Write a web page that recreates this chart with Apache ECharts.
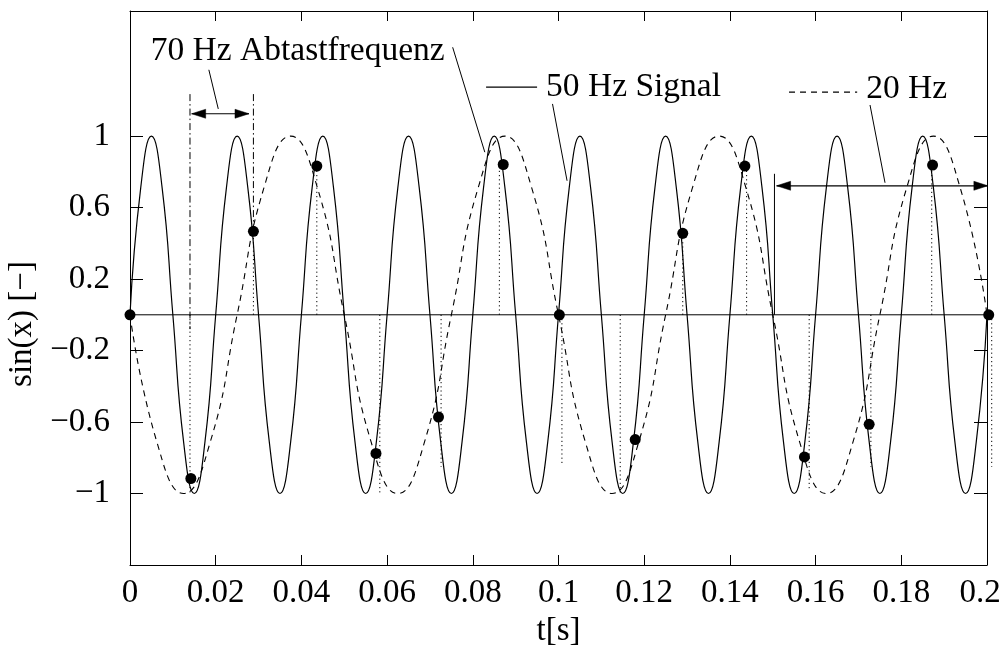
<!DOCTYPE html>
<html><head><meta charset="utf-8">
<script src="https://cdn.jsdelivr.net/npm/echarts@6/dist/echarts.min.js"></script>
<style>html,body{margin:0;padding:0;background:#fff}#c{width:1005px;height:657px}</style>
</head><body><div id="c"></div>
<script>
// 50 Hz signal (solid), read at 1/8-period steps
const sig50T = [0,0.0025,0.005,0.0075,0.01,0.0125,0.015,0.0175,
  0.02,0.0225,0.025,0.0275,0.03,0.0325,0.035,0.0375,
  0.04,0.0425,0.045,0.0475,0.05,0.0525,0.055,0.0575,
  0.06,0.0625,0.065,0.0675,0.07,0.0725,0.075,0.0775,
  0.08,0.0825,0.085,0.0875,0.09,0.0925,0.095,0.0975,
  0.1,0.1025,0.105,0.1075,0.11,0.1125,0.115,0.1175,
  0.12,0.1225,0.125,0.1275,0.13,0.1325,0.135,0.1375,
  0.14,0.1425,0.145,0.1475,0.15,0.1525,0.155,0.1575,
  0.16,0.1625,0.165,0.1675,0.17,0.1725,0.175,0.1775,
  0.18,0.1825,0.185,0.1875,0.19,0.1925,0.195,0.1975,
  0.2];
const sig50V = [0,0.71,1,0.71,0,-0.71,-1,-0.71,
  0,0.71,1,0.71,0,-0.71,-1,-0.71,
  0,0.71,1,0.71,0,-0.71,-1,-0.71,
  0,0.71,1,0.71,0,-0.71,-1,-0.71,
  0,0.71,1,0.71,0,-0.71,-1,-0.71,
  0,0.71,1,0.71,0,-0.71,-1,-0.71,
  0,0.71,1,0.71,0,-0.71,-1,-0.71,
  0,0.71,1,0.71,0,-0.71,-1,-0.71,
  0,0.71,1,0.71,0,-0.71,-1,-0.71,
  0,0.71,1,0.71,0,-0.71,-1,-0.71,
  0];
// 20 Hz alias (dashed)
const sig20T = [0,0.00625,0.0125,0.01875,0.025,0.03125,0.0375,0.04375,
  0.05,0.05625,0.0625,0.06875,0.075,0.08125,0.0875,0.09375,
  0.1,0.10625,0.1125,0.11875,0.125,0.13125,0.1375,0.14375,
  0.15,0.15625,0.1625,0.16875,0.175,0.18125,0.1875,0.19375,
  0.2];
const sig20V = [0,-0.71,-1,-0.71,0,0.71,1,0.71,
  0,-0.71,-1,-0.71,0,0.71,1,0.71,
  0,-0.71,-1,-0.71,0,0.71,1,0.71,
  0,-0.71,-1,-0.71,0,0.71,1,0.71,
  0];
// 70 Hz samples (dots)
const sampleT = [0,0.0142,0.0288,0.0436,0.0574,0.0720,0.0871,0.1002,0.1179,0.1290,0.1435,0.1574,0.1725,0.1873,0.2004];
const sampleV = [0,-0.916,0.467,0.832,-0.776,-0.572,0.841,0,-0.698,0.456,0.832,-0.795,-0.613,0.838,0];
// dotted sample stems
const stemT = [0.0140,0.0288,0.0436,0.0583,0.0726,0.0862,0.1008,0.1144,0.1290,0.1439,0.1585,0.1729,0.1871,0.2011];
const stemV = [-1.0,0.47,0.83,-1.0,-0.85,0.84,-0.84,-1.0,0.456,0.83,-0.98,-0.85,0.84,-0.85];
// ticks
const xTickValues = [0,0.02,0.04,0.06,0.08,0.1,0.12,0.14,0.16,0.18,0.2];
const xTickLabels = ['0','0.02','0.04','0.06','0.08','0.1','0.12','0.14','0.16','0.18','0.2'];
const yTickValues = [-1,-0.6,-0.2,0.2,0.6,1];
const yTickLabels = ['\u22121','\u22120.6','\u22120.2','0.2','0.6','1'];
// annotations (data coordinates)
const annotationTexts = ['70 Hz Abtastfrequenz','50 Hz Signal','20 Hz'];
const annotationT = [0.00483,0.0971,0.1718];
const annotationV = [1.474,1.274,1.263];
const leaderSegs = [[0.0753,1.497,0.0828,0.910],[0.0184,1.371,0.0206,1.152],[0.0986,1.180,0.1020,0.750],[0.1727,1.174,0.1762,0.739],[0.1504,0.789,0.1504,0]];
const zeroLineSeg = [[0,0,0.2,0]];
const legendSolidSeg = [[0.0831,1.274,0.0950,1.274]];
const legendDashedSeg = [[0.1538,1.246,0.1697,1.246]];
const arrowSegs = [[0.01439,1.125,0.02777,1.125],[0.1509,0.722,0.2002,0.722]];
const dashDotSegs = [[0.0140,1.235,0.0140,-0.08],[0.0288,1.235,0.0288,0.47]];

const FONT = 'Liberation Serif';
const chart = echarts.init(document.getElementById('c'), null, {renderer:'canvas'});

function segSeries(data, lineWidth, lineDash, arrows, z) {
  return {
    type:'custom', coordinateSystem:'cartesian2d', clip:false, silent:true, z: z || 2,
    data: data, encode:{x:[0,2], y:[1,3]},
    renderItem: function(params, api) {
      const p1 = api.coord([api.value(0), api.value(1)]);
      const p2 = api.coord([api.value(2), api.value(3)]);
      const children = [{type:'line', shape:{x1:p1[0],y1:p1[1],x2:p2[0],y2:p2[1]},
        style:{stroke:'#000', lineWidth: lineWidth, lineDash: lineDash || null, fill:null}}];
      if (arrows) {
        const L = 14, W = 4.5;
        [[p1,p2],[p2,p1]].forEach(function(pr){
          const tip = pr[0], o = pr[1];
          const dx = tip[0]-o[0], dy = tip[1]-o[1];
          const len = Math.sqrt(dx*dx+dy*dy) || 1;
          const ux = dx/len, uy = dy/len;
          const bx = tip[0]-ux*L, by = tip[1]-uy*L;
          children.push({type:'polygon', shape:{points:[[tip[0],tip[1]],[bx-uy*W,by+ux*W],[bx+uy*W,by-ux*W]]},
            style:{fill:'#000', stroke:'#000', lineWidth:0.5}});
        });
      }
      return {type:'group', children: children};
    }
  };
}

function tickLabel(values, labels) {
  return function(v) {
    for (let i = 0; i < values.length; i++) if (Math.abs(values[i]-v) < 1e-9) {
      if (i === values.length-1 && labels === xTickLabels) return '{last|' + labels[i] + '}';
      return labels[i];
    }
    return '';
  };
}

const axisCommon = {
  axisLine:{show:true, onZero:false, lineStyle:{color:'#000', width:1}},
  splitLine:{show:false}
};

const option = {
  animation:false,
  backgroundColor:'#fff',
  grid:{left:130, right:18, top:11, bottom:92, containLabel:false, outerBoundsMode:'none'},
  xAxis:[
    Object.assign({}, axisCommon, {type:'value', position:'bottom', min:0, max:0.2,
      axisTick:{show:true, inside:true, length:10, customValues:xTickValues, lineStyle:{color:'#000'}},
      axisLabel:{show:true, customValues:xTickValues, formatter:tickLabel(xTickValues, xTickLabels),
        margin:12, color:'#000', fontFamily:FONT, fontSize:33,
        rich:{last:{fontFamily:FONT, fontSize:33, color:'#000', padding:[0,14,0,0]}}},
      name:'t[s]', nameLocation:'middle', nameGap:46,
      nameTextStyle:{fontFamily:FONT, fontSize:33, color:'#000'}}),
    Object.assign({}, axisCommon, {type:'value', position:'top', min:0, max:0.2,
      axisTick:{show:true, inside:true, length:10, customValues:xTickValues, lineStyle:{color:'#000'}},
      axisLabel:{show:false}})
  ],
  yAxis:[
    Object.assign({}, axisCommon, {type:'value', position:'left', min:-1.4, max:1.7,
      axisTick:{show:true, inside:true, length:13, customValues:yTickValues, lineStyle:{color:'#000'}},
      axisLabel:{show:true, customValues:yTickValues, formatter:tickLabel(yTickValues, yTickLabels),
        margin:20, color:'#000', fontFamily:FONT, fontSize:33},
      name:'sin(x) [\u2212]', nameLocation:'middle', nameRotate:90, nameGap:90,
      nameTextStyle:{fontFamily:FONT, fontSize:33, color:'#000', padding:[0,72,0,0]}}),
    Object.assign({}, axisCommon, {type:'value', position:'right', min:-1.4, max:1.7,
      axisTick:{show:true, inside:true, length:13, customValues:yTickValues, lineStyle:{color:'#000'}},
      axisLabel:{show:false}})
  ],
  series:[
    segSeries(stemT.map(function(t,i){return [t,0,t,stemV[i]];}), 1, [1.2,3], false, 1),
    segSeries(zeroLineSeg, 1, null, false, 1),
    {type:'line', data: sig50T.map(function(t,i){return [t, sig50V[i]];}), smooth:true, showSymbol:false,
      silent:true, z:3, lineStyle:{color:'#000', width:1.2}},
    {type:'line', data: sig20T.map(function(t,i){return [t, sig20V[i]];}), smooth:true, showSymbol:false,
      silent:true, z:3, lineStyle:{color:'#000', width:1.1, type:[6,5]}},
    segSeries(dashDotSegs, 1, [7,3,1.5,3], false, 2),
    segSeries(leaderSegs, 1, null, false, 2),
    segSeries(legendSolidSeg, 1.2, null, false, 2),
    segSeries(legendDashedSeg, 1.1, [6,5], false, 2),
    segSeries(arrowSegs, 1.2, null, true, 2),
    {type:'scatter', data: sampleT.map(function(t,i){return [t, sampleV[i]];}), symbol:'circle', symbolSize:11,
      clip:false, silent:true, z:5, itemStyle:{color:'#000', opacity:1}},
    {type:'custom', coordinateSystem:'cartesian2d', clip:false, silent:true, z:6,
      data: annotationT.map(function(t,i){return [t, annotationV[i]];}), encode:{x:0, y:1},
      renderItem: function(params, api) {
        const p = api.coord([api.value(0), api.value(1)]);
        return {type:'text', x:p[0], y:p[1], style:{text: annotationTexts[params.dataIndex],
          fontFamily:FONT, fontSize:33.5, fill:'#000', align:'left', verticalAlign:'middle'}};
      }}
  ]
};
chart.setOption(option);
</script>
</body></html>
